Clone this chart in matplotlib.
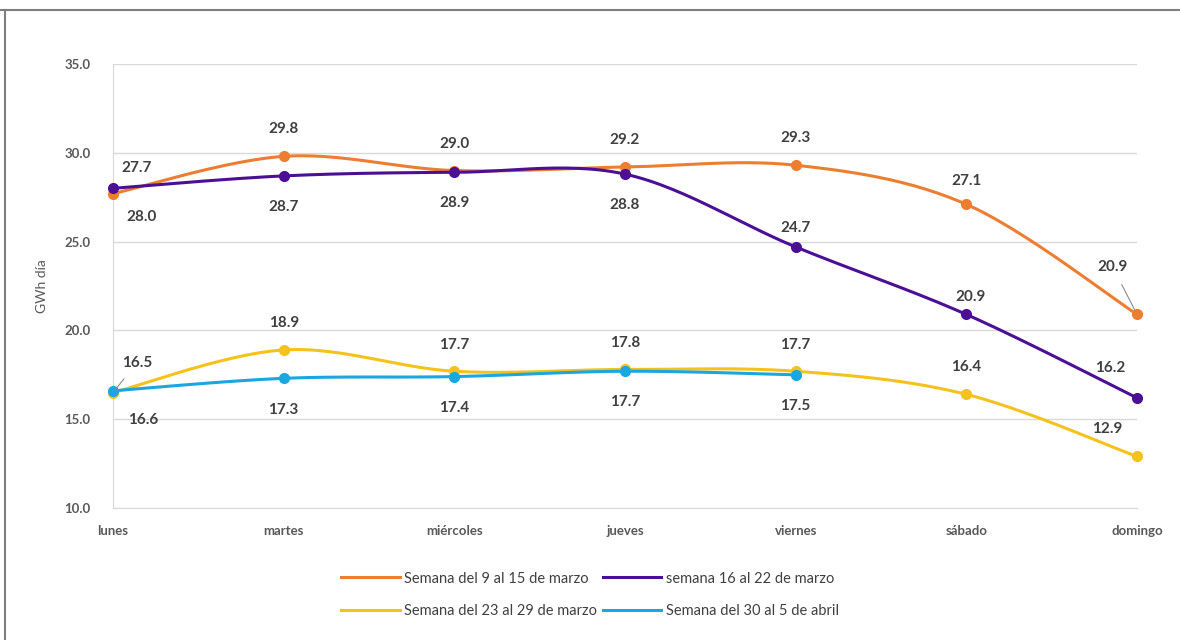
import numpy as np
import matplotlib.pyplot as plt
from matplotlib.lines import Line2D

days = ["lunes", "martes", "miércoles", "jueves", "viernes", "sábado", "domingo"]

names = ["Semana del 9 al 15 de marzo", "semana 16 al 22 de marzo",
         "Semana del 23 al 29 de marzo", "Semana del 30 al 5 de abril"]

w1 = [27.7, 29.8, 29.0, 29.2, 29.3, 27.1, 20.9]
w2 = [28.0, 28.7, 28.9, 28.8, 24.7, 20.9, 16.2]
w3 = [16.5, 18.9, 17.7, 17.8, 17.7, 16.4, 12.9]
w4 = [16.6, 17.3, 17.4, 17.7, 17.5]

colors = ["#ED7D31", "#4B0F96", "#F5C21B", "#1AA6DF"]

# label offsets in pixels (dx, dy)
off1 = [(24, 26), (0, 27), (0, 27), (0, 27), (0, 27), (0, 23), (-24, 47)]
off2 = [(29, -29), (0, -31), (0, -31), (0, -31), (0, 19), (4, 17), (-27, 30)]
off3 = [(24, 30), (0, 27), (0, 26), (0, 26), (0, 26), (0, 27), (-30, 27)]
off4 = [(30, -29), (0, -32), (0, -31), (0, -31), (0, -31)]
leaders = {(0, 6), (2, 0)}


def smooth(y, n=30):
    # excel-like smoothed line (catmull-rom as bezier)
    x = np.arange(len(y), dtype=float)
    p = np.column_stack([x, np.array(y, dtype=float)])
    pts = []
    for i in range(len(p) - 1):
        p0 = p[i - 1] if i > 0 else p[i]
        p3 = p[i + 2] if i + 2 < len(p) else p[i + 1]
        c1 = p[i] + (p[i + 1] - p0) / 6
        c2 = p[i + 1] - (p3 - p[i]) / 6
        t = np.linspace(0, 1, n)[:, None]
        seg = ((1 - t) ** 3) * p[i] + 3 * ((1 - t) ** 2) * t * c1 + 3 * (1 - t) * t ** 2 * c2 + t ** 3 * p[i + 1]
        pts.append(seg if i == 0 else seg[1:])
    pts = np.vstack(pts)
    return pts[:, 0], pts[:, 1]


plt.rcParams['font.family'] = ['Lato', 'DejaVu Sans']

fig = plt.figure(figsize=(11.8, 6.4), dpi=100)
ax = fig.add_axes([113 / 1180, 1 - 508 / 640, 1024 / 1180, 444 / 640])

series = [w1, w2, w3, w4]
offsets = [off1, off2, off3, off4]
order = [0, 2, 1, 3]
for k in order:
    y = series[k]
    sx, sy = smooth(y)
    ax.plot(sx, sy, color=colors[k], lw=2.2, clip_on=False, zorder=3 + k * 0.1)
    ax.plot(range(len(y)), y, 'o', color=colors[k], ms=7, clip_on=False, zorder=4 + k * 0.1)

for k in range(4):
    y = series[k]
    for i, v in enumerate(y):
        dx, dy = offsets[k][i]
        arrow = None
        if (k, i) in leaders:
            arrow = dict(arrowstyle='-', color='#8c8c8c', lw=0.8, shrinkA=6, shrinkB=3)
        ax.annotate(f"{v:.1f}", (i, v), xytext=(dx, dy), textcoords='offset pixels',
                    ha='center', va='center', fontsize=11, fontweight='bold',
                    color='#404040', arrowprops=arrow, zorder=6)

ax.set_xlim(0, 6)
ax.set_ylim(10, 35)
ax.set_yticks(np.arange(10, 36, 5))
ax.set_yticklabels([f"{v:.1f}" for v in np.arange(10, 36, 5)])
ax.set_xticks(range(len(days)))
ax.set_xticklabels(days)
ax.tick_params(axis='y', length=0, pad=16, labelsize=9.5, labelcolor='#595959')
ax.tick_params(axis='x', length=0, pad=12, labelsize=9.5, labelcolor='#595959')
for lab in ax.get_xticklabels() + ax.get_yticklabels():
    lab.set_fontweight('bold')
ax.grid(axis='y', color='#D9D9D9', lw=1)
ax.set_axisbelow(True)
for s in ['top', 'right']:
    ax.spines[s].set_visible(False)
for s in ['left', 'bottom']:
    ax.spines[s].set_color('#D9D9D9')
ax.set_ylabel("GWh día", fontsize=10, color='#595959', labelpad=12)

# legend fills column-wise, so reorder to get Excel's row order
leg_order = [0, 2, 1, 3]
handles = [Line2D([0], [0], color=colors[k], lw=2.2) for k in leg_order]
labels = [names[k] for k in leg_order]
leg = fig.legend(handles, labels, loc='center', bbox_to_anchor=(590 / 1180, 1 - 595 / 640),
                 ncol=2, frameon=False, fontsize=10.5, handlelength=4.0, handletextpad=0.3,
                 columnspacing=0.4, labelspacing=1.3)
for t in leg.get_texts():
    t.set_color('#404040')

# frame lines on top and left edge
fig.add_artist(Line2D([0, 1], [1 - 10 / 640, 1 - 10 / 640], color='#7f7f7f', lw=1.5))
fig.add_artist(Line2D([4.5 / 1180, 4.5 / 1180], [0, 1 - 10 / 640], color='#7f7f7f', lw=1.5))

fig.savefig("out.png", dpi=100, facecolor='white')
